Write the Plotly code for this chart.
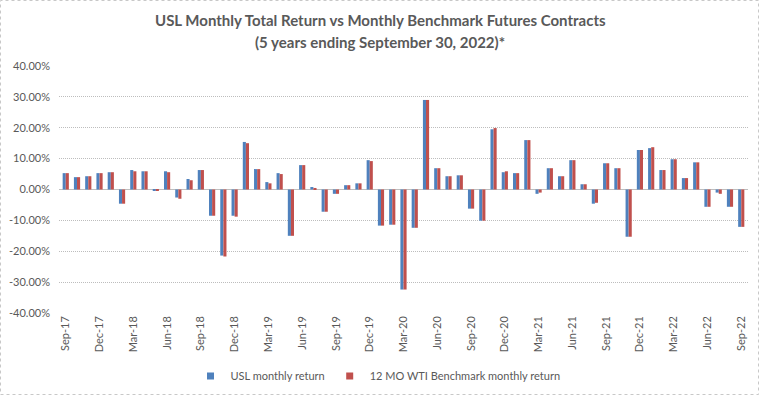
import plotly.graph_objects as go

months = ["Sep-17","Oct-17","Nov-17","Dec-17","Jan-18","Feb-18","Mar-18","Apr-18","May-18","Jun-18",
          "Jul-18","Aug-18","Sep-18","Oct-18","Nov-18","Dec-18","Jan-19","Feb-19","Mar-19","Apr-19",
          "May-19","Jun-19","Jul-19","Aug-19","Sep-19","Oct-19","Nov-19","Dec-19","Jan-20","Feb-20",
          "Mar-20","Apr-20","May-20","Jun-20","Jul-20","Aug-20","Sep-20","Oct-20","Nov-20","Dec-20",
          "Jan-21","Feb-21","Mar-21","Apr-21","May-21","Jun-21","Jul-21","Aug-21","Sep-21","Oct-21",
          "Nov-21","Dec-21","Jan-22","Feb-22","Mar-22","Apr-22","May-22","Jun-22","Jul-22","Aug-22","Sep-22"]

usl = [5.3, 4.0, 4.3, 5.3, 5.6, -4.6, 6.3, 5.9, -0.4, 5.9,
       -2.6, 3.4, 6.3, -8.5, -21.4, -8.5, 15.4, 6.6, 2.4, 5.3,
       -15.0, 7.9, 0.8, -7.2, -1.4, 1.4, 2.0, 9.5, -11.7, -11.4,
       -32.4, -12.4, 29.0, 6.9, 4.3, 4.6, -6.2, -10.1, 19.5, 5.6,
       5.3, 16.0, -1.4, 6.9, 4.3, 9.5, 1.7, -4.6, 8.5, 6.9,
       -15.3, 12.8, 13.4, 6.3, 9.8, 3.7, 8.8, -5.6, -1.0, -5.6, -12.1]

bench = [5.3, 4.0, 4.3, 5.3, 5.6, -4.6, 5.9, 5.9, -0.4, 5.6,
         -3.0, 3.0, 6.3, -8.5, -21.7, -8.8, 15.0, 6.6, 2.0, 5.0,
         -15.0, 7.9, 0.5, -7.2, -1.4, 1.4, 2.0, 9.2, -11.7, -11.4,
         -32.4, -12.4, 29.0, 6.9, 4.3, 4.6, -6.2, -10.1, 19.9, 5.9,
         5.3, 16.0, -1.0, 6.9, 4.3, 9.5, 1.7, -4.3, 8.5, 6.9,
         -15.3, 12.8, 13.7, 6.3, 9.8, 3.7, 8.8, -5.6, -1.4, -5.6, -12.1]

tick_labels = months[::3]
y_ticks = [-40, -30, -20, -10, 0, 10, 20, 30, 40]
series_names = ["USL monthly return", "12 MO WTI Benchmark monthly return"]
title_lines = ["USL Monthly Total Return vs Monthly Benchmark Futures Contracts",
               "(5 years ending September 30, 2022)*"]

FONT = "Lato, Open Sans, Liberation Sans, sans-serif"
BLUE, RED = "#4F81BD", "#C0504D"

fig = go.Figure()
fig.add_trace(go.Bar(x=months, y=usl, name=series_names[0], marker_color=BLUE,
                     marker_line_width=0, showlegend=False))
fig.add_trace(go.Bar(x=months, y=bench, name=series_names[1], marker_color=RED,
                     marker_line_width=0, showlegend=False))
# legend entries with small square keys
for nm, col in zip(series_names, [BLUE, RED]):
    fig.add_trace(go.Scatter(x=[None], y=[None], mode="markers", name=nm,
                             marker=dict(symbol="square", size=7, color=col)))

L, R, T, B = 59, 12, 66, 83
W, H = 760, 396
pw, ph = W - L - R, H - T - B

def px_x(p):
    return (p - L) / pw

def px_y(p):
    return (H - B - p) / ph

annotations = [
    dict(text=f"<b>{title_lines[0]}</b>", xref="paper", yref="paper", x=px_x(380), y=px_y(20),
         xanchor="center", yanchor="middle", showarrow=False,
         font=dict(family=FONT, size=15, color="#595959")),
    dict(text=f"<b>{title_lines[1]}</b>", xref="paper", yref="paper", x=px_x(380), y=px_y(42),
         xanchor="center", yanchor="middle", showarrow=False,
         font=dict(family=FONT, size=15, color="#595959")),
]

fig.update_layout(
    width=W, height=H,
    margin=dict(l=L, r=R, t=T, b=B, autoexpand=False),
    paper_bgcolor="white", plot_bgcolor="white",
    barmode="group", bargap=0.45, bargroupgap=0.0,
    font=dict(family=FONT, color="#595959", size=11),
    legend=dict(orientation="h", xref="container", yref="container",
                x=378 / W, xanchor="center", y=1 - 376 / H, yanchor="middle",
                font=dict(family=FONT, size=11, color="#595959"),
                itemwidth=30, tracegroupgap=0, traceorder="normal"),
    annotations=annotations,
    xaxis=dict(type="category", tickmode="array", tickvals=tick_labels, ticktext=tick_labels,
               tickangle=-90, showgrid=False, showline=False, ticks="", tickfont=dict(size=11),
               range=[-0.6, len(months) - 0.4], automargin=False),
    yaxis=dict(range=[-40, 40], tickmode="array", tickvals=y_ticks,
               ticktext=[f"{v:.2f}%" for v in y_ticks],
               showgrid=True, gridcolor="#BDBDBD", griddash="1px,1px", gridwidth=1,
               zeroline=True, zerolinecolor="#BFBFBF", zerolinewidth=1,
               showline=False, ticks="", tickfont=dict(size=11), ticklabelstandoff=8,
               automargin=False),
    shapes=[dict(type="rect", xref="paper", yref="paper",
                 x0=px_x(0.5), x1=px_x(758.5), y0=px_y(394.5), y1=px_y(0.5),
                 line=dict(color="#C8C8C8", width=1, dash="dot"), layer="below")],
)

fig.write_html("out.html", config={"displayModeBar": False},
               post_script="document.body.style.margin='0';")
